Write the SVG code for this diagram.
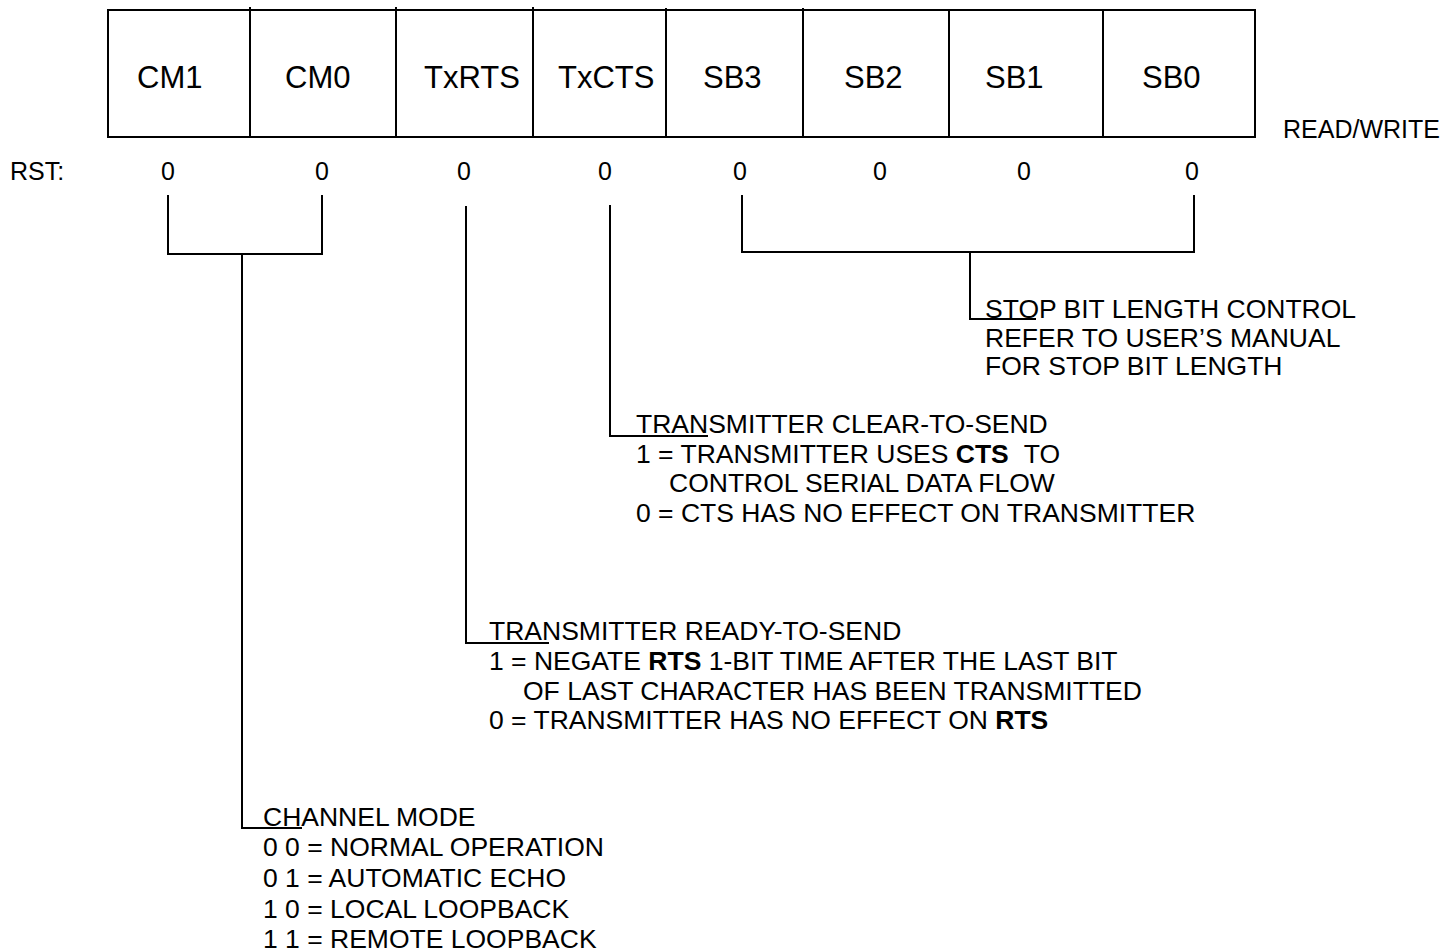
<svg xmlns="http://www.w3.org/2000/svg" width="1452" height="952" viewBox="0 0 1452 952">
<style>
  .ln { stroke: #000; stroke-width: 2; fill: none; }
  .cell { font-family: "Liberation Sans", Arial, sans-serif; font-size: 31px; fill: #000; }
  .t { font-family: "Liberation Sans", Arial, sans-serif; font-size: 25px; fill: #000; }
  .d { font-family: "Liberation Sans", Arial, sans-serif; font-size: 26.5px; fill: #000; }
  .b { font-weight: bold; }
</style>
<rect width="1452" height="952" fill="#fff"/>
<g id="register">
  <rect class="ln" x="108" y="10" width="1147" height="127"/>
  <line class="ln" x1="250" y1="7" x2="250" y2="137"/>
  <line class="ln" x1="396" y1="7" x2="396" y2="137"/>
  <line class="ln" x1="533" y1="7" x2="533" y2="137"/>
  <line class="ln" x1="666" y1="8" x2="666" y2="137"/>
  <line class="ln" x1="803" y1="8" x2="803" y2="137"/>
  <line class="ln" x1="949" y1="10" x2="949" y2="137"/>
  <line class="ln" x1="1103" y1="10" x2="1103" y2="137"/>
  <text class="cell" x="137" y="88">CM1</text>
  <text class="cell" x="285" y="88">CM0</text>
  <text class="cell" x="424" y="88">TxRTS</text>
  <text class="cell" x="558" y="88">TxCTS</text>
  <text class="cell" x="703" y="88">SB3</text>
  <text class="cell" x="844" y="88">SB2</text>
  <text class="cell" x="985" y="88">SB1</text>
  <text class="cell" x="1142" y="88">SB0</text>
</g>
<g id="rw"><text class="t" x="1283" y="138">READ/WRITE</text></g>
<g id="reset">
  <text class="t" x="10" y="180">RST:</text>
  <g text-anchor="middle">
    <text class="t" x="168" y="180">0</text>
    <text class="t" x="322" y="180">0</text>
    <text class="t" x="464" y="180">0</text>
    <text class="t" x="605" y="180">0</text>
    <text class="t" x="740" y="180">0</text>
    <text class="t" x="880" y="180">0</text>
    <text class="t" x="1024" y="180">0</text>
    <text class="t" x="1192" y="180">0</text>
  </g>
</g>
<g id="connectors">
  <polyline class="ln" points="168,195 168,254 322,254 322,195"/>
  <polyline class="ln" points="242,254 242,828 302,828"/>
  <polyline class="ln" points="466,206 466,643 549,643"/>
  <polyline class="ln" points="610,205 610,436 708,436"/>
  <polyline class="ln" points="742,195 742,252 1194,252 1194,195"/>
  <polyline class="ln" points="970,252 970,319 1036,319"/>
</g>
<g id="stopbit">
  <text class="d" x="985" y="318">STOP BIT LENGTH CONTROL</text>
  <text class="d" x="985" y="347">REFER TO USER’S MANUAL</text>
  <text class="d" x="985" y="375">FOR STOP BIT LENGTH</text>
</g>
<g id="txcts">
  <text class="d" x="636" y="433">TRANSMITTER CLEAR-TO-SEND</text>
  <text class="d" x="636" y="463">1 = TRANSMITTER USES <tspan class="b">CTS</tspan><tspan dx="15">TO</tspan></text>
  <text class="d" x="669" y="492">CONTROL SERIAL DATA FLOW</text>
  <text class="d" x="636" y="522">0 = CTS HAS NO EFFECT ON TRANSMITTER</text>
</g>
<g id="txrts">
  <text class="d" x="489" y="640">TRANSMITTER READY-TO-SEND</text>
  <text class="d" x="489" y="670">1 = NEGATE <tspan class="b">RTS</tspan> 1-BIT TIME AFTER THE LAST BIT</text>
  <text class="d" x="523" y="700">OF LAST CHARACTER HAS BEEN TRANSMITTED</text>
  <text class="d" x="489" y="729">0 = TRANSMITTER HAS NO EFFECT ON <tspan class="b">RTS</tspan></text>
</g>
<g id="chmode">
  <text class="d" x="263" y="826">CHANNEL MODE</text>
  <text class="d" x="263" y="856">0 0 = NORMAL OPERATION</text>
  <text class="d" x="263" y="887">0 1 = AUTOMATIC ECHO</text>
  <text class="d" x="263" y="918">1 0 = LOCAL LOOPBACK</text>
  <text class="d" x="263" y="948">1 1 = REMOTE LOOPBACK</text>
</g>
</svg>
